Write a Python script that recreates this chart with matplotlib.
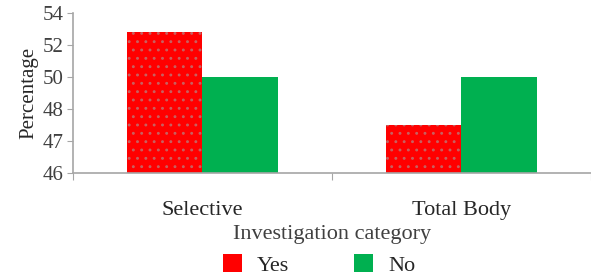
import matplotlib
matplotlib.use('Agg')
import matplotlib.pyplot as plt
from matplotlib.patches import Patch
import numpy as np

categories = ['Selective', 'Total Body']
yes_values = [52.8, 47.5]
no_values = [50.0, 50.0]
tick_values = [46, 47, 48, 50, 52, 54]

RED = '#ff0000'
GREEN = '#00b050'
GRAY = '#a6a6a6'
TEXT = '#262626'

plt.rcParams['font.family'] = ['Liberation Serif', 'DejaVu Serif']
plt.rcParams['hatch.linewidth'] = 0.9


def forward(v):
    # the source chart spaces its uneven tick labels evenly
    return np.interp(v, tick_values, np.arange(len(tick_values)))


def inverse(v):
    return np.interp(v, np.arange(len(tick_values)), tick_values)


fig = plt.figure(figsize=(5.91, 2.75), dpi=100)
ax = fig.add_axes([0.1235, 0.371, 0.8765, 0.582])
ax.set_yscale('function', functions=(forward, inverse))

x = np.arange(len(categories)) + 0.5
w = 0.29
base = tick_values[0]
ax.bar(x - w / 2, np.array(yes_values) - base, bottom=base, width=w,
       color=RED, edgecolor='#c86060', linewidth=0, hatch='..')
ax.bar(x + w / 2, np.array(no_values) - base, bottom=base, width=w,
       color=GREEN, linewidth=0)

ax.set_xlim(0, 2)
ax.set_ylim(46, 54)
ax.set_yticks(tick_values)
ax.set_yticklabels([str(t) for t in tick_values])

ax.set_xticks([0, 1, 2])
ax.set_xticklabels([])
ax.set_xticks(x, minor=True)
ax.set_xticklabels(categories, minor=True)
ax.tick_params(axis='x', which='major', length=5, color=GRAY, direction='out')
ax.tick_params(axis='x', which='minor', length=0, pad=20, labelsize=16, labelcolor=TEXT)
ax.tick_params(axis='y', length=4, color=GRAY, labelsize=15, labelcolor='#404040', pad=3)

for s in ['top', 'right']:
    ax.spines[s].set_visible(False)
ax.spines['left'].set_color(GRAY)
ax.spines['bottom'].set_color(GRAY)
ax.spines['left'].set_linewidth(1.2)
ax.spines['bottom'].set_linewidth(1.2)

ax.set_ylabel('Percentage', fontsize=15, color=TEXT, labelpad=3)
ax.set_xlabel('Investigation category', fontsize=16, color='#404040', labelpad=4)

handles = [Patch(facecolor=RED, label='Yes'), Patch(facecolor=GREEN, label='No')]
fig.legend(handles=handles, loc='lower center', bbox_to_anchor=(0.54, -0.075), ncol=2,
           frameon=False, fontsize=16, handlelength=0.85, handleheight=0.85,
           handletextpad=0.7, columnspacing=2.9, labelcolor=TEXT)

fig.savefig('out.png', dpi=100)
